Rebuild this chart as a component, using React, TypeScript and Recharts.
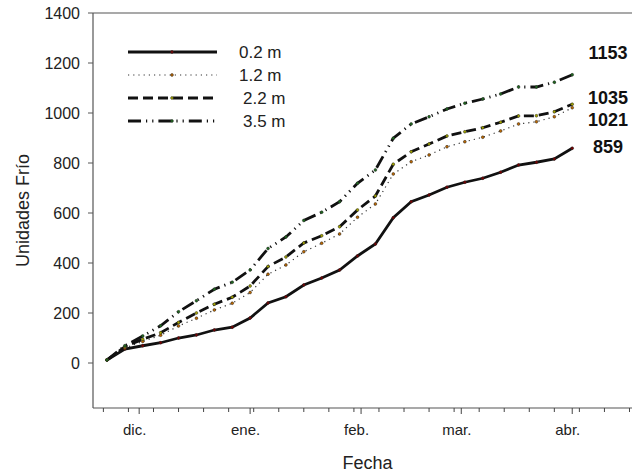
import React from 'react';
import {
  LineChart,
  Line,
  XAxis,
  YAxis,
  Legend,
  ReferenceLine,
  ReferenceDot,
} from 'recharts';

// días desde el 1 de diciembre
const days = [-9, -4, 1, 6, 11, 16, 21, 26, 31, 36, 41, 46, 51, 56, 61, 66, 71, 76, 81, 86, 91, 96, 101, 106, 111, 116, 121];

const s02 = [12, 56, 69, 81, 100, 112, 132, 143, 180, 240, 265, 312, 340, 372, 428, 476, 581, 645, 672, 703, 723, 739, 763, 792, 803, 816, 859];
const s12 = [12, 60, 86, 111, 148, 179, 212, 239, 282, 355, 392, 445, 479, 516, 583, 636, 756, 805, 832, 865, 885, 903, 928, 956, 965, 985, 1021];
const s22 = [12, 65, 95, 121, 162, 200, 235, 263, 308, 386, 424, 480, 509, 545, 612, 668, 795, 845, 876, 908, 925, 941, 963, 988, 989, 1005, 1035];
const s35 = [12, 69, 108, 149, 205, 249, 295, 323, 372, 458, 504, 570, 603, 645, 719, 772, 899, 956, 985, 1016, 1039, 1056, 1076, 1104, 1104, 1123, 1153];

const monthTicks = [0, 31, 62, 90, 121];
const monthLabels = ['dic.', 'ene.', 'feb.', 'mar.', 'abr.'];
const weekTicks = [-10, -3, 4, 11, 18, 25, 32, 39, 46, 53, 60, 67, 74, 81, 88, 95, 102, 109, 116, 123, 130, 137];
const yTicks = [0, 200, 400, 600, 800, 1000, 1200, 1400];

const endLabels = ['1153', '1035', '1021', '859'];
const endLabelY = [1240, 1060, 972, 864];
const endLabelX = 131;

const FONT = '"Liberation Sans", Arial, sans-serif';

const series = [
  { key: 'a', name: '0.2 m', dash: undefined, width: 2.8, stroke: '#111', dotFill: '#7a0000' },
  { key: 'b', name: '1.2 m', dash: '1.2 4', width: 1.2, stroke: '#333', dotFill: '#c06a00' },
  { key: 'c', name: '2.2 m', dash: '10 5', width: 2.8, stroke: '#111', dotFill: '#a8a800' },
  { key: 'd', name: '3.5 m', dash: '13 5 1.2 5 1.2 5', width: 2.8, stroke: '#111', dotFill: '#1f6a1f' },
];

const data = days.map((d, i) => ({ day: d, a: s02[i], b: s12[i], c: s22[i], d: s35[i] }));

const XTick = (props: any) => {
  const { x, y, payload } = props;
  const idx = monthTicks.indexOf(payload.value);
  const major = idx >= 0;
  return (
    <g>
      <line x1={x} x2={x} y1={y} y2={y + (major ? 6 : 4)} stroke="#444" strokeWidth={1} />
      {major && (
        <text x={x - 4.5} y={y + 27} textAnchor="middle" fontSize={15} fontFamily={FONT} fill="#222">
          {monthLabels[idx]}
        </text>
      )}
    </g>
  );
};

const LegendBox = () => {
  const rows = [52, 75, 98, 121];
  const textX = [239, 239, 243, 243];
  return (
    <svg width={300} height={140} style={{ overflow: 'visible' }}>
      {series.map((s, i) => (
        <g key={s.key}>
          <line x1={128} x2={217} y1={rows[i]} y2={rows[i]} stroke={s.stroke} strokeWidth={s.width} strokeDasharray={s.dash} />
          <circle cx={172} cy={rows[i]} r={1.4} fill={s.dotFill} stroke="#222" strokeWidth={0.5} />
          <text x={textX[i]} y={rows[i] + 6} fontSize={17} fontFamily={FONT} fill="#222">
            {s.name}
          </text>
        </g>
      ))}
    </svg>
  );
};

export default function App() {
  return (
    <div style={{ position: 'absolute', left: 0, top: 0 }}>
      <LineChart width={632} height={474} data={data} margin={{ top: 13, right: 0, bottom: 0, left: 0 }}>
        <XAxis
          dataKey="day"
          type="number"
          domain={[-12.9, 137.7]}
          ticks={[...weekTicks, ...monthTicks]}
          interval={0}
          allowDataOverflow
          height={66}
          tickSize={0}
          tickMargin={0}
          tickLine={false}
          tick={<XTick />}
          axisLine={{ stroke: '#555', strokeWidth: 1.2 }}
          label={{ value: 'Fecha', position: 'insideBottom', offset: 5, dx: 5, fontSize: 18, fontFamily: FONT, fill: '#222' }}
        />
        <YAxis
          type="number"
          domain={[-180, 1400]}
          ticks={yTicks}
          interval={0}
          allowDataOverflow
          width={93}
          tickSize={5}
          tickMargin={8}
          tick={{ fontSize: 16, fontFamily: FONT, fill: '#222' }}
          tickLine={{ stroke: '#555' }}
          axisLine={{ stroke: '#555', strokeWidth: 1.2 }}
          label={{
            value: 'Unidades Frío',
            angle: -90,
            position: 'insideLeft',
            offset: 23,
            fontSize: 18,
            fontFamily: FONT,
            fill: '#222',
            style: { textAnchor: 'middle' },
          }}
        />
        <ReferenceLine y={1400} stroke="#555" strokeWidth={1.2} />
        <Legend layout="vertical" align="center" verticalAlign="middle" content={<LegendBox />} wrapperStyle={{ left: 0, top: 0, width: 300, height: 140 }} />
        {series.map((s) => (
          <Line
            key={s.key}
            type="linear"
            dataKey={s.key}
            name={s.name}
            stroke={s.stroke}
            strokeWidth={s.width}
            strokeDasharray={s.dash}
            dot={{ r: 1.4, fill: s.dotFill, stroke: '#222', strokeWidth: 0.5, strokeDasharray: 'none' }}
            activeDot={false}
            isAnimationActive={false}
          />
        ))}
        {endLabels.map((t, i) => (
          <ReferenceDot
            key={t}
            x={endLabelX}
            y={endLabelY[i]}
            r={0}
            fill="none"
            stroke="none"
            label={{ value: t, position: 'center', fontSize: 18, fontWeight: 'bold', fontFamily: FONT, fill: '#111' }}
          />
        ))}
      </LineChart>
    </div>
  );
}
